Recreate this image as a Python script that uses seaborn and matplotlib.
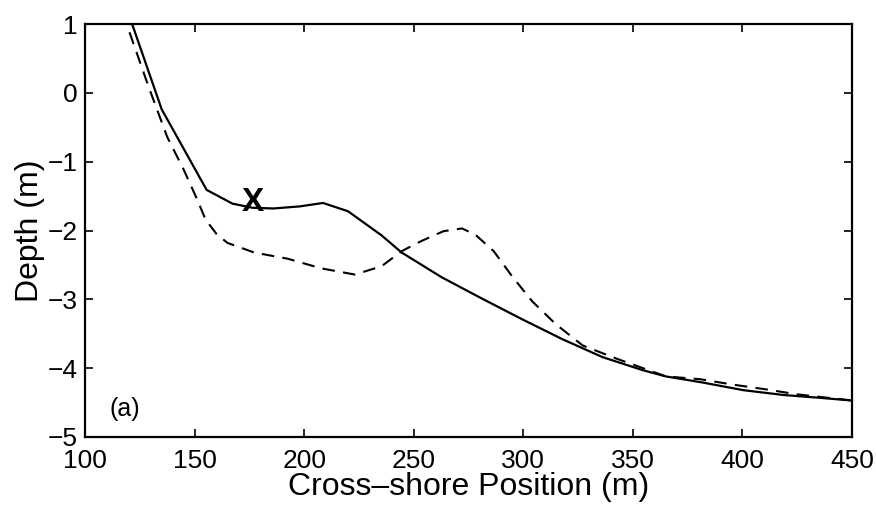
import matplotlib
matplotlib.use("Agg")
import matplotlib.pyplot as plt
import seaborn as sns
import pandas as pd

# Solid profile
solid_x = [121.5, 135.0, 155.5, 167.3, 176.5, 186.0, 198.0, 208.6, 220.0, 235.3, 244.5,
           262.8, 281.2, 299.5, 317.9, 336.2, 354.6, 365.1, 382.1, 400.5, 418.8, 435.0, 450.0]
solid_y = [1.00, -0.24, -1.41, -1.61, -1.67, -1.68, -1.65, -1.60, -1.72, -2.07, -2.32,
           -2.68, -2.99, -3.29, -3.58, -3.84, -4.03, -4.12, -4.21, -4.32, -4.39, -4.43, -4.47]

# Dashed profile
dash_x = [120.3, 129.0, 137.5, 145.1, 151.2, 155.0, 160.0, 165.0, 177.2, 192.5, 207.8,
          223.1, 235.3, 244.5, 253.7, 263.6, 272.0, 278.1, 286.5, 295.0, 304.1, 314.8,
          327.1, 342.4, 365.1, 380.6, 395.9, 411.2, 424.9, 450.0]
dash_y = [0.88, 0.09, -0.64, -1.12, -1.55, -1.84, -2.05, -2.18, -2.32, -2.41, -2.55,
          -2.64, -2.52, -2.30, -2.15, -2.01, -1.97, -2.06, -2.30, -2.67, -3.03, -3.36,
          -3.67, -3.86, -4.12, -4.16, -4.24, -4.31, -4.38, -4.47]

marker_x, marker_y = 176.5, -1.60
x_ticks = [100, 150, 200, 250, 300, 350, 400, 450]
y_ticks = [-5, -4, -3, -2, -1, 0, 1]

sns.set_theme(style="ticks")
plt.rcParams['font.family'] = ['Liberation Sans', 'DejaVu Sans']

fig = plt.figure(figsize=(8.76, 5.15), dpi=100)
ax = fig.add_axes([85/876, 1-437/515, (852-85)/876, (437-24)/515])

df_s = pd.DataFrame({"x": solid_x, "y": solid_y})
df_d = pd.DataFrame({"x": dash_x, "y": dash_y})
sns.lineplot(data=df_s, x="x", y="y", ax=ax, color="black", linewidth=1.6, sort=False)
sns.lineplot(data=df_d, x="x", y="y", ax=ax, color="black", linewidth=1.5, sort=False,
             dashes=False)
ax.lines[-1].set_dashes([6, 4])

ax.text(marker_x, marker_y, "X", fontsize=24, fontweight="bold", ha="center",
        va="center", color="black")
ax.text(118, -4.6, "(a)", fontsize=18, ha="center", va="center", color="black")

ax.set_xlim(100, 450)
ax.set_ylim(-5, 1)
ax.set_xticks(x_ticks)
ax.set_yticks(y_ticks)
ax.set_yticklabels(["\u22125", "\u22124", "\u22123", "\u22122", "\u22121", "0", "1"])
ax.tick_params(direction="in", top=True, right=True, length=6, width=1.2,
               labelsize=19, colors="black")
ax.tick_params(axis="x", pad=9)
ax.tick_params(axis="y", pad=5)
for s in ax.spines.values():
    s.set_linewidth(1.6)
    s.set_color("black")
ax.set_xlabel("Cross\u2013shore Position (m)", fontsize=23, labelpad=-1, color="black")
ax.set_ylabel("Depth (m)", fontsize=23, labelpad=2, color="black")

fig.savefig("out.png", dpi=100)
